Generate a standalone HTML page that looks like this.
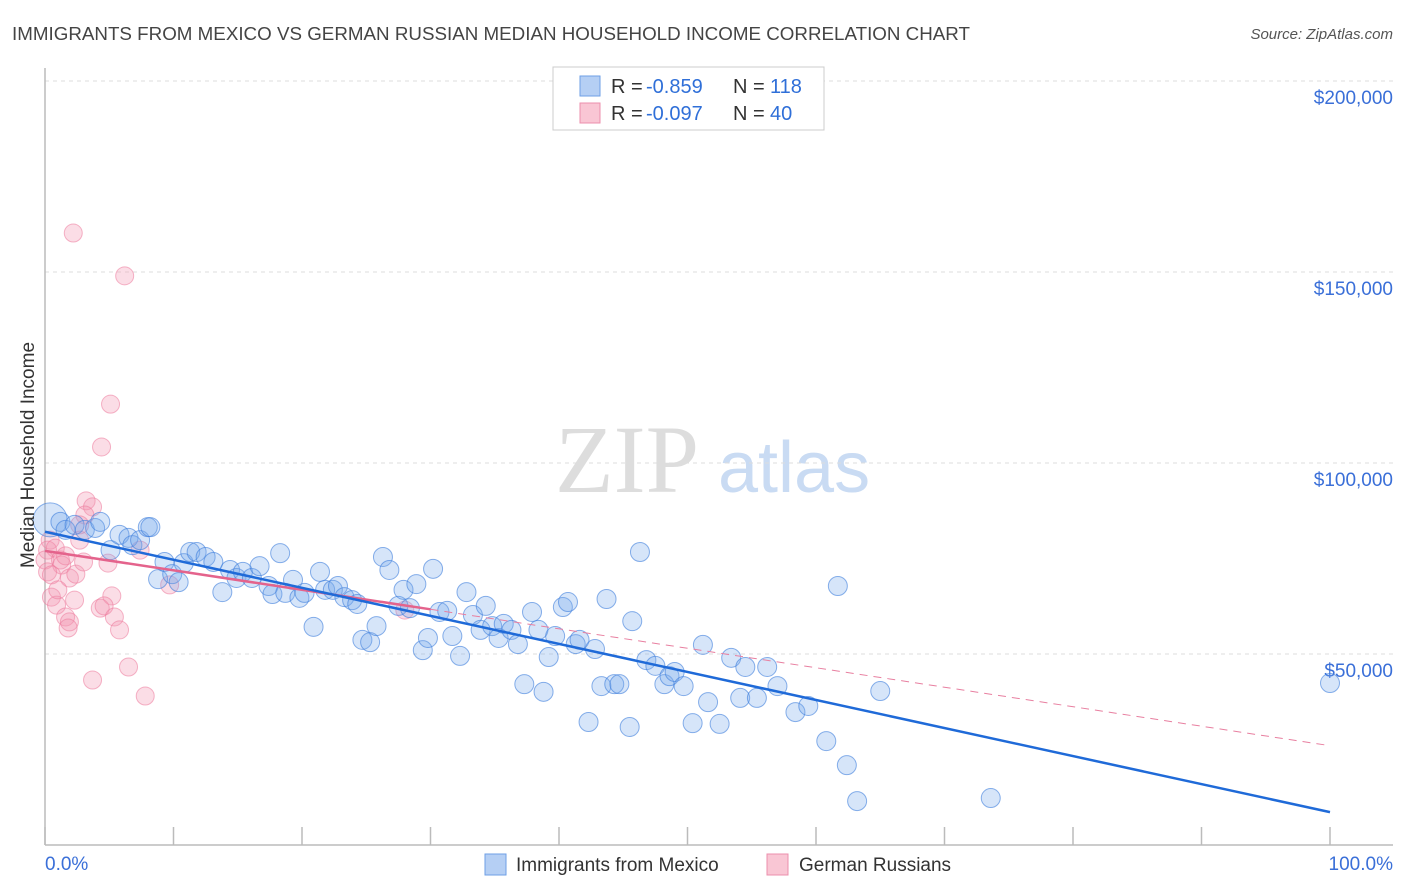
<!DOCTYPE html>
<html><head><meta charset="utf-8">
<style>
html,body{margin:0;padding:0;background:#fff;}
svg{display:block;font-family:"Liberation Sans",sans-serif;}
</style></head>
<body>
<svg id="chart" width="1406" height="892" viewBox="0 0 1406 892" xmlns="http://www.w3.org/2000/svg">
<text x="12" y="40" font-size="18" fill="#444" textLength="958" lengthAdjust="spacingAndGlyphs">IMMIGRANTS FROM MEXICO VS GERMAN RUSSIAN MEDIAN HOUSEHOLD INCOME CORRELATION CHART</text>
<text x="1393" y="39" font-size="15" fill="#555" font-style="italic" text-anchor="end">Source: ZipAtlas.com</text>
<g>
<text x="555" y="492" font-size="96" font-family="Liberation Serif,serif" fill="#ddd">ZIP</text>
<text x="718" y="492" font-size="72" fill="#c9dbf3">atlas</text>
</g>
<g id="grid"></g>
<g id="axes"></g>
<g id="pinkPts"></g>
<g id="bluePts"></g>
<g id="trends"></g>
<text transform="translate(34,455) rotate(-90)" font-size="19" fill="#333" text-anchor="middle">Median Household Income</text>
<text x="45" y="870" font-size="19" fill="#3a6fd8">0.0%</text>
<text x="1393" y="870" font-size="19" fill="#3a6fd8" text-anchor="end">100.0%</text>
<g>
<rect x="553" y="67" width="271" height="63" fill="#fff" stroke="#ccc"/>
<rect x="580" y="76" width="20" height="20" fill="#b5cff4" stroke="#6e9fe6"/>
<rect x="580" y="103" width="20" height="20" fill="#f9c6d4" stroke="#ec8fac"/>
<text x="611" y="93" font-size="20" fill="#333">R =</text>
<text x="646" y="93" font-size="20" fill="#2f6fd8">-0.859</text>
<text x="733" y="93" font-size="20" fill="#333">N =</text>
<text x="770" y="93" font-size="20" fill="#2f6fd8">118</text>
<text x="611" y="120" font-size="20" fill="#333">R =</text>
<text x="646" y="120" font-size="20" fill="#2f6fd8">-0.097</text>
<text x="733" y="120" font-size="20" fill="#333">N =</text>
<text x="770" y="120" font-size="20" fill="#2f6fd8">40</text>
</g>
<g>
<rect x="485" y="854" width="21" height="21" fill="#b5cff4" stroke="#6e9fe6"/>
<text x="516" y="871" font-size="19" fill="#333">Immigrants from Mexico</text>
<rect x="767" y="854" width="21" height="21" fill="#f9c6d4" stroke="#ec8fac"/>
<text x="799" y="871" font-size="19" fill="#333">German Russians</text>
</g>
</svg>
<script>
const yTicks=[50,100,150,200];
const yTickLabels=["$50,000","$100,000","$150,000","$200,000"];
const xTicks=[0,10,20,30,40,50,60,70,80,90,100];
const blueX=[0.4,1.2,1.6,2.3,3.1,3.9,4.3,5.1,5.8,6.5,6.8,7.4,8.0,8.2,8.8,9.3,9.9,10.4,10.8,11.3,11.8,12.5,13.1,13.8,14.4,14.9,15.4,16.1,16.7,17.4,17.7,18.3,18.7,19.3,19.8,20.2,20.9,21.4,21.8,22.4,22.8,23.3,23.9,24.3,24.7,25.3,25.8,26.3,26.8,27.5,27.9,28.4,28.9,29.4,29.8,30.2,30.7,31.3,31.7,32.3,32.8,33.3,33.9,34.3,34.8,35.3,35.7,36.3,36.8,37.3,37.9,38.4,38.8,39.2,39.7,40.3,40.7,41.3,41.6,42.3,42.8,43.3,43.7,44.3,44.7,45.5,45.7,46.3,46.8,47.5,48.2,48.6,49.0,49.7,50.4,51.2,51.6,52.5,53.4,54.1,54.5,55.4,56.2,57.0,58.4,59.4,60.8,61.7,62.4,63.2,65.0,73.6,100];
const blueY=[85.1,84.6,82.5,83.8,82.5,83.0,84.6,77.2,81.2,80.4,78.5,79.8,83.2,83.2,69.6,74.1,70.9,68.8,73.8,76.7,76.7,75.4,74.1,66.2,72.0,69.9,71.5,69.9,73.0,67.8,65.7,76.4,66.0,69.4,64.7,66.0,57.1,71.5,66.8,66.8,67.8,64.9,64.1,63.1,53.7,53.1,57.3,75.4,72.0,62.6,66.8,62.0,68.3,51.0,54.2,72.3,61.0,61.3,54.7,49.5,66.2,60.2,56.3,62.6,57.3,54.2,57.9,56.3,52.6,42.1,61.0,56.3,40.1,49.2,54.7,62.3,63.6,52.6,53.7,32.2,51.3,41.6,64.4,42.1,42.1,30.9,58.6,76.7,48.4,46.9,42.1,44.2,45.3,41.6,31.9,52.4,37.4,31.7,49.0,38.5,46.6,38.5,46.6,41.6,34.8,36.4,27.2,67.8,20.9,11.5,40.3,12.3,42.4];
const pinkX=[2.2,6.2,5.1,4.4,3.2,3.7,3.1,2.7,0.4,0.2,0.8,1.2,7.4,4.9,0.5,0.9,1.3,1.9,2.4,3.0,5.2,4.3,4.6,1.6,1.9,1.8,5.4,5.8,6.5,3.7,7.8,9.7,28.0,0.0,0.2,0.5,1.0,1.6,2.3,2.7];
const pinkY=[160.2,149.0,115.4,104.2,90.1,88.5,86.4,83.8,79.8,77.2,77.7,74.6,77.2,73.8,64.9,62.8,73.3,69.9,70.9,74.1,65.2,62.0,62.6,59.7,58.4,56.8,59.7,56.3,46.6,43.2,39.0,68.1,61.5,74.6,71.5,70.7,66.8,75.7,64.1,79.8];
const blueTrend=[82,8.6];
const pinkTrend=[77,26];
const pinkSolidEnd=30;

const NS="http://www.w3.org/2000/svg";
const X0=45,X1=1330,Y0=845,YS=3.82;
function sx(v){return X0+(X1-X0)*v/100;}
function sy(v){return Y0-v*YS;}
function mk(tag,attrs,parent){const e=document.createElementNS(NS,tag);for(const k in attrs)e.setAttribute(k,attrs[k]);parent.appendChild(e);return e;}
const grid=document.getElementById('grid'),axes=document.getElementById('axes');
yTicks.forEach((t,i)=>{
  const l=mk('line',{x1:X0,x2:1393,y1:sy(t),y2:sy(t),stroke:'#ddd','stroke-dasharray':'4,4'},grid);
  
  
  const tx=mk('text',{x:1393,y:sy(t)+23,'font-size':19,fill:'#3a6fd8','text-anchor':'end'},axes);
  tx.textContent=yTickLabels[i];
  
  
});
mk('line',{x1:X0,x2:1393,y1:Y0,y2:Y0,stroke:'#bbb','stroke-width':1.5},axes);
mk('line',{x1:X0,x2:X0,y1:68,y2:Y0,stroke:'#bbb','stroke-width':1.5},axes);
xTicks.forEach(t=>{
  const l=mk('line',{x1:sx(t),x2:sx(t),y1:Y0,y2:Y0-18,stroke:'#bbb','stroke-width':1.5},axes);
  
  
});
const bp=document.getElementById('bluePts'),pp=document.getElementById('pinkPts');
pinkX.forEach((x,i)=>{
  const c=mk('circle',{cx:sx(x),cy:sy(pinkY[i]),r:9,fill:'rgba(244,150,178,0.32)',stroke:'rgba(236,120,155,0.55)','stroke-width':1},pp);
  
  
});
blueX.forEach((x,i)=>{
  const c=mk('circle',{cx:sx(x),cy:sy(blueY[i]),r:i==0?17:9.5,fill:'rgba(120,170,235,0.3)',stroke:'rgba(60,125,220,0.6)','stroke-width':1},bp);
  
  
});
const tr=document.getElementById('trends');
function pv(x){return pinkTrend[0]+(pinkTrend[1]-pinkTrend[0])*x/100;}
const pd=mk('line',{x1:sx(pinkSolidEnd),y1:sy(pv(pinkSolidEnd)),x2:sx(100),y2:sy(pv(100)),stroke:'#e87fa0','stroke-width':1,'stroke-dasharray':'8,6'},tr);


const ps=mk('line',{x1:sx(0),y1:sy(pv(0)),x2:sx(pinkSolidEnd),y2:sy(pv(pinkSolidEnd)),stroke:'#e4638c','stroke-width':2.5},tr);


const bl=mk('line',{x1:sx(0),y1:sy(blueTrend[0]),x2:sx(100),y2:sy(blueTrend[1]),stroke:'#1f6ad8','stroke-width':2.5},tr);


</script>
</body></html>
